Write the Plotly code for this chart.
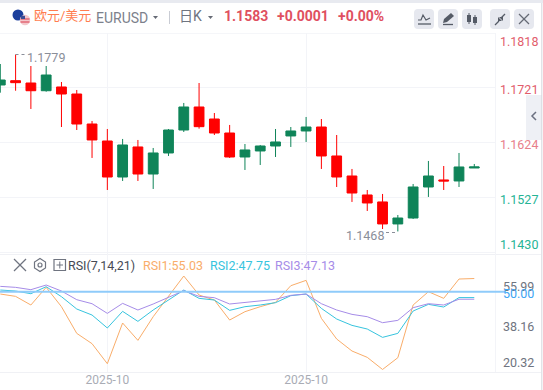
import plotly.graph_objects as go

W, H = 543, 390

index = list(range(32))
opens = [1.17263,1.17339,1.17298,1.17162,1.17228,1.17104,1.16575,1.16275,1.15640,1.16170,1.15693,1.16064,1.16469,1.16875,1.16663,1.16416,1.15993,1.16099,1.16187,1.16364,1.16452,1.16522,1.16011,1.15658,1.15323,1.15200,1.14812,1.14917,1.15464,1.15588,1.15570,1.15799]
highs = [1.17633,1.17800,1.17598,1.17598,1.17316,1.17175,1.16628,1.16487,1.16311,1.16293,1.16152,1.16487,1.16946,1.17298,1.16769,1.16558,1.16222,1.16205,1.16487,1.16522,1.16699,1.16663,1.16381,1.15782,1.15411,1.15341,1.14970,1.15517,1.15923,1.15834,1.16064,1.15870]
lows = [1.17127,1.17162,1.16840,1.17145,1.16522,1.16469,1.15976,1.15411,1.15570,1.15570,1.15429,1.16011,1.16434,1.16493,1.16381,1.15976,1.15764,1.15852,1.15993,1.16170,1.16258,1.15782,1.15464,1.15200,1.15041,1.14723,1.14680,1.14900,1.15288,1.15411,1.15464,1.15799]
closes = [1.17351,1.17304,1.17162,1.17439,1.17104,1.16575,1.16293,1.15640,1.16205,1.15693,1.16064,1.16469,1.16875,1.16528,1.16416,1.15993,1.16117,1.16187,1.16258,1.16452,1.16522,1.16011,1.15640,1.15358,1.15182,1.14812,1.14917,1.15464,1.15658,1.15570,1.15817,1.15817]

rsi1 = [49.11,48.22,44.92,51.66,44.28,34.10,30.16,22.52,38.05,31.43,40.46,48.10,55.99,48.73,46.82,39.19,42.37,44.28,45.93,52.29,54.33,39.83,31.94,27.36,24.94,20.32,24.81,44.92,50.00,47.46,54.84,55.03]
rsi2 = [50.64,50.26,49.24,51.91,48.10,43.39,41.10,36.14,42.50,38.68,43.01,46.82,50.64,47.46,46.82,42.88,44.28,44.92,45.81,48.48,49.11,43.64,39.57,37.15,35.75,32.57,34.10,42.63,45.17,44.15,47.75,47.75]
rsi3 = [52.04,51.66,50.77,52.55,50.26,46.95,45.42,41.73,45.55,43.01,45.30,47.71,50.39,48.22,47.71,45.30,45.81,46.44,47.08,48.61,49.11,45.42,43.01,41.35,40.46,38.17,39.06,43.90,45.42,44.92,47.13,47.13]

price_ticks = [1.1818, 1.1721, 1.1624, 1.1527, 1.1430]
rsi_ticks = [55.99, 38.16, 20.32]
date_ticks = [7, 20]
date_labels = ["2025-10", "2025-10"]

RED, GREEN = "#ff0000", "#0f8459"
GRID = "#f3f4f8"
GRAY = "#6f7480"
FONT = "Roboto, 'Noto Sans CJK SC', sans-serif"

def px(x): return x / W
def py(y): return 1 - y / H

fig = go.Figure()
fig.add_trace(go.Candlestick(
    x=index, open=opens, high=highs, low=lows, close=closes,
    increasing=dict(line=dict(color=GREEN, width=1), fillcolor=GREEN),
    decreasing=dict(line=dict(color=RED, width=1), fillcolor=RED),
    whiskerwidth=0, xaxis="x", yaxis="y", showlegend=False))
for vals, col in ((rsi1, "#f9ad6a"), (rsi2, "#37c4de"), (rsi3, "#a68ce8")):
    fig.add_trace(go.Scatter(x=index, y=vals, mode="lines", line=dict(color=col, width=1),
                             xaxis="x2", yaxis="y2", showlegend=False))

shapes, ann = [], []

def rect(x0, y0, x1, y1, fill, layer="below", radius=0):
    if radius:
        r = radius; rx, ry = r / W, r / H
        a, b, c, d = px(x0), py(y0), px(x1), py(y1)
        path = (f"M{a+rx},{b} L{c-rx},{b} Q{c},{b} {c},{b-ry} L{c},{d+ry} Q{c},{d} {c-rx},{d} "
                f"L{a+rx},{d} Q{a},{d} {a},{d+ry} L{a},{b-ry} Q{a},{b} {a+rx},{b} Z")
        shapes.append(dict(type="path", path=path, xref="paper", yref="paper", fillcolor=fill,
                           line=dict(width=0), layer=layer))
    else:
        shapes.append(dict(type="rect", x0=px(x0), x1=px(x1), y0=py(y0), y1=py(y1), xref="paper",
                           yref="paper", fillcolor=fill, line=dict(width=0), layer=layer))

def line(x0, y0, x1, y1, col, w=1, layer="above", dash=None):
    shapes.append(dict(type="line", x0=px(x0), x1=px(x1), y0=py(y0), y1=py(y1), xref="paper",
                       yref="paper", line=dict(color=col, width=w, dash=dash), layer=layer))

def poly(points, col=None, w=1.3, fill=None, close=False):
    d = " L".join(f"{px(x)},{py(y)}" for x, y in points)
    shapes.append(dict(type="path", path="M" + d + (" Z" if close else ""), xref="paper", yref="paper",
                       line=dict(color=col or "rgba(0,0,0,0)", width=w), fillcolor=fill or "rgba(0,0,0,0)"))

def circle(cx, cy, r, fill=None, col=None, w=1.2):
    shapes.append(dict(type="circle", x0=px(cx - r), x1=px(cx + r), y0=py(cy - r), y1=py(cy + r), xref="paper",
                       yref="paper", fillcolor=fill or "rgba(0,0,0,0)",
                       line=dict(color=col or "rgba(0,0,0,0)", width=w if col else 0)))

def text(x, y, s, col, size=12, anchor="left", bold=False):
    ann.append(dict(x=px(x), y=py(y), xref="paper", yref="paper", text=f"<b>{s}</b>" if bold else s,
                    showarrow=False, xanchor=anchor, yanchor="middle", borderpad=0, borderwidth=0,
                    font=dict(family=FONT, size=size, color=col)))

# page furniture
rect(0, 0, W, 3, "#e8eaf0")
rect(0, 33, 496, 34, "#f5f6f9")
line(495.5, 33, 495.5, 372, "#f3f4f8")
line(0, 372.5, W - 2, 372.5, "#f0f1f5", layer="below")
line(0, 254.5, W - 2, 254.5, "#f0f1f5", layer="below")
rect(526, 95, 542, 140, "#eef0f5")
poly([(536, 112), (532, 116), (536, 120)], "#6b7080", 1.5)
line(541.8, 3, 541.8, H, "#d6d8de")

# flag
circle(18, 15, 5.5, fill="#1c3f9c")
circle(25, 20, 5.2, fill="#f3c8cc")
rect(20.5, 18.4, 29.5, 19.6, "#e0505f", layer="above")
rect(20.5, 21.4, 29.5, 22.6, "#e0505f", layer="above")
rect(21, 15.8, 25, 19, "#3d4f94", layer="above")

# header
text(34, 16, "欧元/美元", "#ff7d50", 13)
text(96, 18, "EURUSD", "#7c818c", 14)
poly([(153, 16), (158, 16), (155.5, 19)], fill="#666a75", w=0)
line(169.5, 11, 169.5, 24, "#c9ccd4")
text(179, 16, "日K", "#6f7480", 14)
poly([(208, 16), (213, 16), (210.5, 19)], fill="#666a75", w=0)
text(224, 16, "1.1583", "#e0505f", 14, bold=True)
text(277, 16, "+0.0001", "#e0505f", 14, bold=True)
text(338, 16, "+0.00%", "#e0505f", 14, bold=True)

# toolbar
for x0 in (414, 438, 462, 490, 514):
    rect(x0, 9, x0 + 20, 29, "#e6e8ef", layer="above", radius=4)
ic = "#555b66"
poly([(418, 20), (421, 20), (423, 15), (426, 20), (430, 18)], ic, 1.2)
line(418, 24, 431, 24, ic, 1.3)
poly([(443, 23), (444, 19), (451, 13), (454, 16), (447, 22)], fill=ic, w=0, close=True)
line(443, 24.5, 453, 24.5, ic, 1.3)
rect(467, 15, 471, 22, ic, layer="above"); line(469, 13, 469, 24, ic, 1)
rect(473, 17, 477, 23, ic, layer="above"); line(475, 15, 475, 25, ic, 1)
poly([(495, 25), (499, 21)], ic, 1.3); poly([(505, 14), (501, 18)], ic, 1.3)
poly([(498, 17), (498, 21), (502, 21)], fill=ic, w=0, close=True)
poly([(499, 17), (503, 17), (503, 21)], fill=ic, w=0, close=True)
line(519, 14, 529, 24, "#666a75", 1.3); line(529, 14, 519, 24, "#666a75", 1.3)

# price axis labels
shifts = [-8, -1.5, -2, -2, 8]
pcols = ["#e25d6c", "#e25d6c", "#e8808b", "#26b495", "#26b495"]
for v, s, c in zip(price_ticks, shifts, pcols):
    ann.append(dict(x=px(498), y=v, xref="paper", yref="y", text=f"{v:.4f}", showarrow=False, xanchor="left",
                    yanchor="middle", yshift=s, font=dict(family=FONT, size=12.5, color=c)))
# extremes
text(27, 57, "1.1779", "#8a8e99", 12.5)
line(15.5, 54.5, 27, 54.5, "#8a8e99", 1, dash="dot")
text(384, 235, "1.1468", "#8a8e99", 12.5, anchor="right")
line(386, 232.5, 397, 232.5, "#8a8e99", 1, dash="dot")

# RSI header
line(14, 259, 26, 271, GRAY, 1.2); line(26, 259, 14, 271, GRAY, 1.2)
poly([(40, 258.5), (45.5, 262), (45.5, 268), (40, 271.5), (34.5, 268), (34.5, 262)], GRAY, 1.2, close=True)
circle(40, 265, 2, col=GRAY)
poly([(54, 259.5), (65.5, 259.5), (65.5, 270.5), (54, 270.5)], GRAY, 1.2, close=True)
line(56.5, 265, 63, 265, GRAY, 1); line(59.8, 261.5, 59.8, 268.5, GRAY, 1)
text(68, 265.5, "RSI(7,14,21)", "#464a55", 12.5)
text(143, 265.5, "RSI1:55.03", "#f9ad6a", 12.5)
text(210, 265.5, "RSI2:47.75", "#37c4de", 12.5)
text(275, 265.5, "RSI3:47.13", "#a68ce8", 12.5)

# RSI labels and reference line
shapes.append(dict(type="line", xref="paper", yref="y2", x0=0, x1=px(505), y0=50, y1=50,
                   line=dict(color="#8fcbfa", width=2), layer="above"))
rshifts = [-10, -3.3, 6.5]
for v, s in zip(rsi_ticks, rshifts):
    ann.append(dict(x=px(536), y=v, xref="paper", yref="y2", text=f"{v:.2f}", showarrow=False, xanchor="right",
                    yanchor="middle", yshift=s, font=dict(family=FONT, size=12.5, color="#6f7480")))
ann.append(dict(x=px(536), y=50, xref="paper", yref="y2", text="50.00", showarrow=False, xanchor="right",
                yanchor="middle", yshift=-1.5, font=dict(family=FONT, size=12.5, color="#3da5f4")))

x_range = [-0.02, 32.42]
common_x = dict(range=x_range, domain=[0, 496 / W], showgrid=True, gridcolor=GRID, gridwidth=1, zeroline=False,
                tickmode="array", tickvals=date_ticks, showline=False, fixedrange=True)
fig.update_layout(
    width=W, height=H, margin=dict(l=0, r=0, t=0, b=0), paper_bgcolor="white", plot_bgcolor="white",
    boxgap=0.36, boxgroupgap=0,
    xaxis=dict(**common_x, rangeslider=dict(visible=False), anchor="y", showticklabels=False, ticks=""),
    xaxis2=dict(**common_x, anchor="y2", ticktext=date_labels, ticks="", ticklabelstandoff=-1,
                tickfont=dict(family=FONT, size=12, color="#a9acb5")),
    yaxis=dict(domain=[py(254), py(33)], range=[1.14282, 1.1818], tickmode="array", tickvals=price_ticks,
               showticklabels=False, showgrid=True, gridcolor=GRID, zeroline=False, fixedrange=True),
    yaxis2=dict(domain=[py(372), py(254)], range=[19.35, 64.39], showticklabels=False, showgrid=False,
                zeroline=False, fixedrange=True),
    shapes=shapes, annotations=ann, showlegend=False,
)
fig.write_html("out.html", config=dict(displayModeBar=False),
               post_script="document.body.style.margin='0';document.body.style.overflow='hidden';")
